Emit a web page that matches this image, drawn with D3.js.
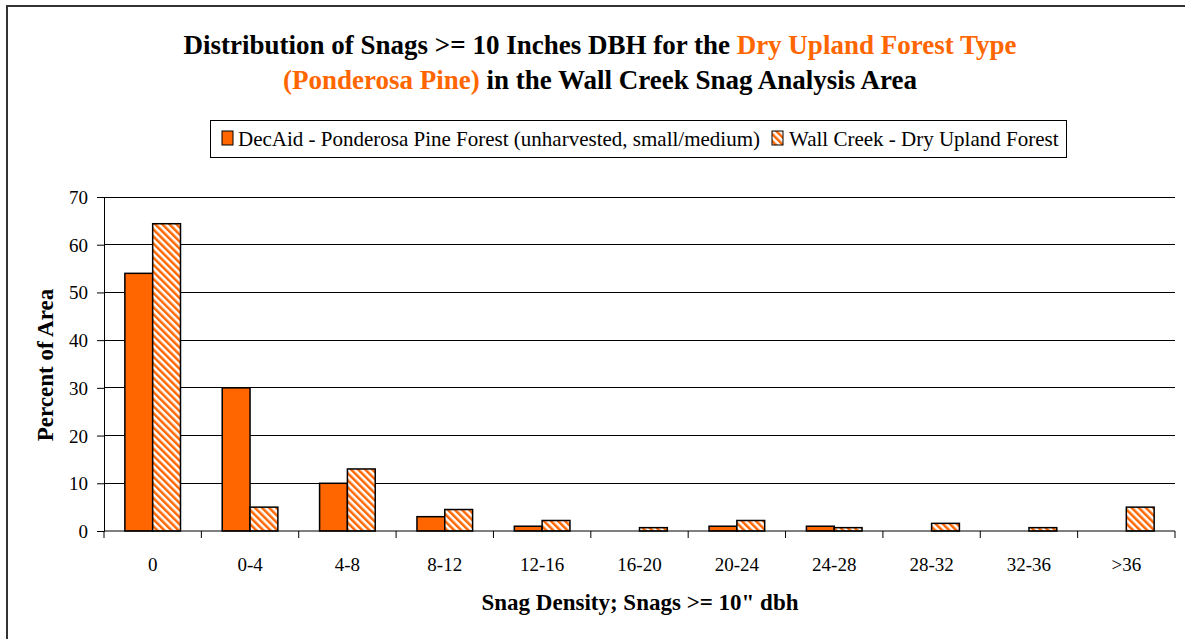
<!DOCTYPE html>
<html>
<head>
<meta charset="utf-8">
<script src="https://cdn.jsdelivr.net/npm/d3@7"></script>
<style>
  body { margin: 0; background: #fff; }
  svg { display: block; }
  svg text { font-family: "Liberation Serif", "Times New Roman", serif; fill: #000; }
</style>
</head>
<body>
<svg id="chart" width="1185" height="639"></svg>
<script>
// Snag density classes (snags >= 10" dbh per acre)
const categories = ["0", "0-4", "4-8", "8-12", "12-16", "16-20", "20-24", "24-28", "28-32", "32-36", ">36"];
// Percent of area by class
const decaidValues = [54, 30, 10, 3, 1, 0, 1, 1, 0, 0, 0];
const wallCreekValues = [64.4, 5, 13, 4.5, 2.2, 0.7, 2.2, 0.7, 1.6, 0.7, 5];
const seriesNames = ["DecAid - Ponderosa Pine Forest (unharvested, small/medium)", "Wall Creek - Dry Upland Forest"];
const yTicks = [0, 10, 20, 30, 40, 50, 60, 70];

const ORANGE = "#ff6600";
const SERIF = "Liberation Serif, Times New Roman, serif";
const svg = d3.select("#chart");

// diagonal hatch (top-left to bottom-right stripes) used by the Wall Creek series
const defs = svg.append("defs");
const pat = defs.append("pattern")
  .attr("id", "hatch")
  .attr("patternUnits", "userSpaceOnUse")
  .attr("width", 5).attr("height", 5)
  .attr("patternTransform", "rotate(-45)");
pat.append("rect").attr("width", 5).attr("height", 5).attr("fill", "#fff");
pat.append("rect").attr("x", 0).attr("y", 0).attr("width", 2.5).attr("height", 5).attr("fill", ORANGE);

// outer frame
svg.append("rect")
  .attr("x", 7).attr("y", 6).attr("width", 1200).attr("height", 700)
  .attr("fill", "none").attr("stroke", "#333").attr("stroke-width", 2);

// title
const title = svg.append("text")
  .attr("text-anchor", "middle")
  .attr("font-family", SERIF)
  .attr("font-weight", "bold").attr("font-size", 27);
const t1 = title.append("tspan").attr("x", 600).attr("y", 54);
t1.append("tspan").text("Distribution of Snags >= 10 Inches DBH for the ");
t1.append("tspan").style("fill", ORANGE).text("Dry Upland Forest Type");
const t2 = title.append("tspan").attr("x", 600).attr("y", 89);
t2.append("tspan").style("fill", ORANGE).text("(Ponderosa Pine)");
t2.append("tspan").text(" in the Wall Creek Snag Analysis Area");

// plot area
const margin = { left: 104, right: 1175, top: 197, bottom: 531 };
const x = d3.scaleBand().domain(categories).range([margin.left, margin.right]).paddingInner(0).paddingOuter(0);
const barW = x.bandwidth() / 3.5;
const y = d3.scaleLinear().domain([0, 70]).range([margin.bottom, margin.top]);

// gridlines
svg.append("g").selectAll("line")
  .data(yTicks.filter(d => d > 0))
  .join("line")
  .attr("x1", margin.left).attr("x2", margin.right)
  .attr("y1", d => y(d)).attr("y2", d => y(d))
  .attr("stroke", "#000").attr("stroke-width", 1).attr("shape-rendering", "crispEdges");

// bars
const groups = svg.append("g").selectAll("g")
  .data(categories.map((c, i) => ({ c, a: decaidValues[i], b: wallCreekValues[i] })))
  .join("g");
const offset = (x.bandwidth() - 2 * barW) / 2;
groups.filter(d => d.a > 0).append("rect")
  .attr("x", d => x(d.c) + offset)
  .attr("y", d => y(d.a))
  .attr("width", barW)
  .attr("height", d => y(0) - y(d.a))
  .attr("fill", ORANGE).attr("stroke", "#000").attr("stroke-width", 1.5);
groups.filter(d => d.b > 0).append("rect")
  .attr("x", d => x(d.c) + offset + barW)
  .attr("y", d => y(d.b))
  .attr("width", barW)
  .attr("height", d => y(0) - y(d.b))
  .attr("fill", "url(#hatch)").attr("stroke", "#000").attr("stroke-width", 1.5);

// y axis
const yAxis = svg.append("g")
  .attr("transform", `translate(${margin.left},0)`)
  .call(d3.axisLeft(y).tickValues(yTicks).tickSize(7).tickPadding(9).tickFormat(d3.format("d")));
yAxis.attr("font-family", null).attr("font-size", null);
yAxis.select(".domain").attr("stroke", "#000");
yAxis.selectAll(".tick line").attr("stroke", "#000");
yAxis.selectAll("text").attr("font-size", 19).attr("font-family", SERIF).attr("dy", "0.34em");

// x axis: ticks sit on the category boundaries
const xAxisG = svg.append("g").attr("transform", `translate(0,${margin.bottom})`);
xAxisG.append("line")
  .attr("x1", margin.left).attr("x2", margin.right)
  .attr("stroke", "#000").attr("stroke-width", 1);
xAxisG.selectAll("line.tk")
  .data(d3.range(categories.length + 1))
  .join("line").attr("class", "tk")
  .attr("x1", i => margin.left + i * x.bandwidth())
  .attr("x2", i => margin.left + i * x.bandwidth())
  .attr("y1", 0).attr("y2", 7).attr("stroke", "#000");
xAxisG.selectAll("text")
  .data(categories)
  .join("text")
  .attr("x", d => x(d) + x.bandwidth() / 2)
  .attr("y", 40)
  .attr("text-anchor", "middle")
  .attr("font-family", SERIF)
  .attr("font-size", 19)
  .text(d => d);

// axis titles
svg.append("text")
  .attr("transform", "translate(53,365) rotate(-90)")
  .attr("text-anchor", "middle")
  .attr("font-family", SERIF)
  .attr("font-weight", "bold").attr("font-size", 23)
  .text("Percent of Area");
svg.append("text")
  .attr("x", 640).attr("y", 610)
  .attr("text-anchor", "middle")
  .attr("font-family", SERIF)
  .attr("font-weight", "bold").attr("font-size", 23)
  .text("Snag Density; Snags >= 10\" dbh");

// legend
const lg = svg.append("g");
lg.append("rect")
  .attr("x", 210.5).attr("y", 120.5).attr("width", 856).attr("height", 37)
  .attr("fill", "#fff").attr("stroke", "#000").attr("stroke-width", 1);
lg.append("rect").attr("x", 222).attr("y", 131).attr("width", 11).attr("height", 14)
  .attr("fill", ORANGE).attr("stroke", "#000").attr("stroke-width", 1);
lg.append("text").attr("x", 238).attr("y", 146).attr("font-family", SERIF).attr("font-size", 21).text(seriesNames[0]);
lg.append("rect").attr("x", 772).attr("y", 131).attr("width", 11).attr("height", 14)
  .attr("fill", "url(#hatch)").attr("stroke", "#000").attr("stroke-width", 1);
lg.append("text").attr("x", 789).attr("y", 146).attr("font-family", SERIF).attr("font-size", 21).text(seriesNames[1]);
</script>
</body>
</html>
